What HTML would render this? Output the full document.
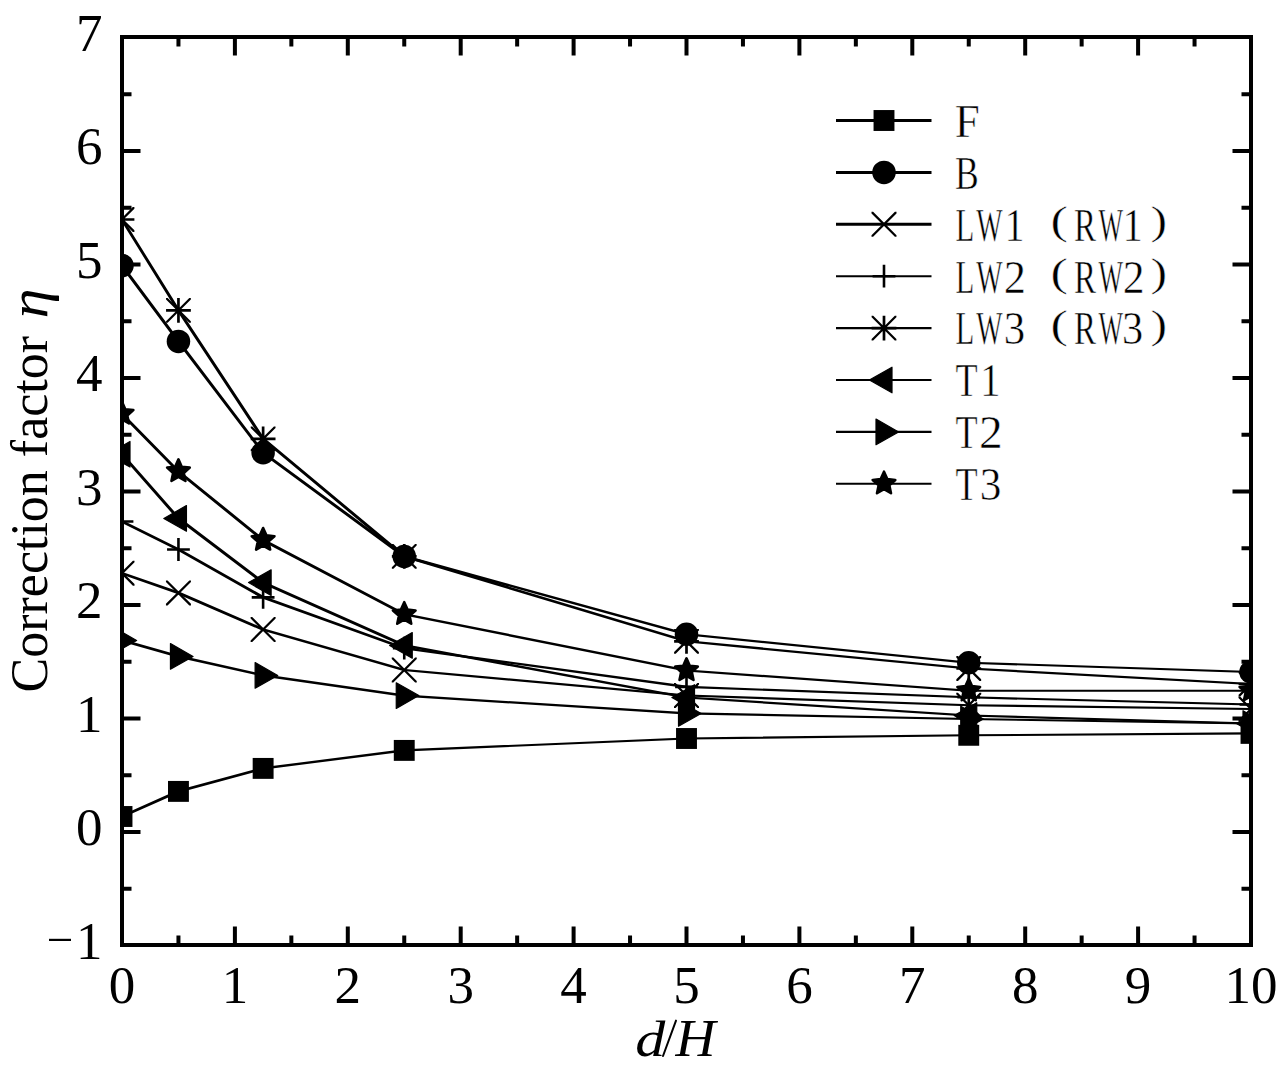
<!DOCTYPE html><html><head><meta charset="utf-8"><style>html,body{margin:0;padding:0;background:#fff;width:1288px;height:1073px;overflow:hidden}svg{display:block}text{font-family:"Liberation Serif",serif;fill:#000}.m{stroke:#000;stroke-width:2.5;fill:none;stroke-linecap:butt}.lg{stroke:#fff;stroke-width:0.5px;vector-effect:non-scaling-stroke;paint-order:fill}.ln{stroke:#000;stroke-width:2.4;fill:none;stroke-linejoin:round}</style></head><body>
<svg width="1288" height="1073" viewBox="0 0 1288 1073">
<rect width="1288" height="1073" fill="#fff"/>
<defs><clipPath id="pc"><rect x="120" y="35" width="1133" height="912"/></clipPath></defs>
<g clip-path="url(#pc)">
<path d="M120.95 815.45L177.4 790.35L179.5 790.35L179.5 792.45L123.05 817.55L120.95 817.55ZM177.4 790.35L262.07 767.35L264.18 767.35L264.18 769.45L179.5 792.45L177.4 792.45ZM262.07 767.35L403.2 749.35L405.3 749.35L405.3 751.45L264.18 769.45L262.07 769.45ZM403.2 749.35L685.45 737.45L687.55 737.45L687.55 739.55L405.3 751.45L403.2 751.45ZM685.45 737.45L967.7 734.25L969.8 734.25L969.8 736.35L687.55 739.55L685.45 739.55ZM967.7 734.25L1249.95 732.35L1252.05 732.35L1252.05 734.45L969.8 736.35L967.7 736.35Z"/>
<path d="M120.95 264.55L123.05 264.55L179.5 340.35L179.5 342.45L177.4 342.45L120.95 266.65ZM177.4 340.35L179.5 340.35L264.18 451.65L264.18 453.75L262.07 453.75L177.4 342.45ZM262.07 451.65L264.18 451.65L405.3 555.35L405.3 557.45L403.2 557.45L262.07 453.75ZM403.2 555.35L405.3 555.35L687.55 633.25L687.55 635.35L685.45 635.35L403.2 557.45ZM685.45 633.25L687.55 633.25L969.8 661.65L969.8 663.75L967.7 663.75L685.45 635.35ZM967.7 661.65L969.8 661.65L1252.05 670.95L1252.05 673.05L1249.95 673.05L967.7 663.75Z"/>
<path d="M120.95 572.15L123.05 572.15L179.5 591.85L179.5 593.95L177.4 593.95L120.95 574.25ZM177.4 591.85L179.5 591.85L264.18 628.45L264.18 630.55L262.07 630.55L177.4 593.95ZM262.07 628.45L264.18 628.45L405.3 668.95L405.3 671.05L403.2 671.05L262.07 630.55ZM403.2 668.95L405.3 668.95L687.55 694.45L687.55 696.55L685.45 696.55L403.2 671.05ZM685.45 694.45L687.55 694.45L969.8 704.15L969.8 706.25L967.7 706.25L685.45 696.55ZM967.7 704.15L969.8 704.15L1252.05 707.95L1252.05 710.05L1249.95 710.05L967.7 706.25Z"/>
<path d="M120.95 520.45L123.05 520.45L179.5 548.45L179.5 550.55L177.4 550.55L120.95 522.55ZM177.4 548.45L179.5 548.45L264.18 596.35L264.18 598.45L262.07 598.45L177.4 550.55ZM262.07 596.35L264.18 596.35L405.3 647.15L405.3 649.25L403.2 649.25L262.07 598.45ZM403.2 647.15L405.3 647.15L687.55 685.85L687.55 687.95L685.45 687.95L403.2 649.25ZM685.45 685.85L687.55 685.85L969.8 696.25L969.8 698.35L967.7 698.35L685.45 687.95ZM967.7 696.25L969.8 696.25L1252.05 703.45L1252.05 705.55L1249.95 705.55L967.7 698.35Z"/>
<path d="M120.95 218.45L123.05 218.45L179.5 309.35L179.5 311.45L177.4 311.45L120.95 220.55ZM177.4 309.35L179.5 309.35L264.18 437.75L264.18 439.85L262.07 439.85L177.4 311.45ZM262.07 437.75L264.18 437.75L405.3 555.35L405.3 557.45L403.2 557.45L262.07 439.85ZM403.2 555.35L405.3 555.35L687.55 640.25L687.55 642.35L685.45 642.35L403.2 557.45ZM685.45 640.25L687.55 640.25L969.8 667.45L969.8 669.55L967.7 669.55L685.45 642.35ZM967.7 667.45L969.8 667.45L1252.05 682.95L1252.05 685.05L1249.95 685.05L967.7 669.55Z"/>
<path d="M120.95 453.25L123.05 453.25L179.5 517.35L179.5 519.45L177.4 519.45L120.95 455.35ZM177.4 517.35L179.5 517.35L264.18 581.55L264.18 583.65L262.07 583.65L177.4 519.45ZM262.07 581.55L264.18 581.55L405.3 644.35L405.3 646.45L403.2 646.45L262.07 583.65ZM403.2 644.35L405.3 644.35L687.55 696.45L687.55 698.55L685.45 698.55L403.2 646.45ZM685.45 696.45L687.55 696.45L969.8 714.45L969.8 716.55L967.7 716.55L685.45 698.55ZM967.7 714.45L969.8 714.45L1252.05 722.45L1252.05 724.55L1249.95 724.55L967.7 716.55Z"/>
<path d="M120.95 639.35L123.05 639.35L179.5 655.35L179.5 657.45L177.4 657.45L120.95 641.45ZM177.4 655.35L179.5 655.35L264.18 674.35L264.18 676.45L262.07 676.45L177.4 657.45ZM262.07 674.35L264.18 674.35L405.3 694.55L405.3 696.65L403.2 696.65L262.07 676.45ZM403.2 694.55L405.3 694.55L687.55 712.35L687.55 714.45L685.45 714.45L403.2 696.65ZM685.45 712.35L687.55 712.35L969.8 717.95L969.8 720.05L967.7 720.05L685.45 714.45ZM967.7 717.95L969.8 717.95L1252.05 722.45L1252.05 724.55L1249.95 724.55L967.7 720.05Z"/>
<path d="M120.95 412.95L123.05 412.95L179.5 470.45L179.5 472.55L177.4 472.55L120.95 415.05ZM177.4 470.45L179.5 470.45L264.18 539.05L264.18 541.15L262.07 541.15L177.4 472.55ZM262.07 539.05L264.18 539.05L405.3 613.25L405.3 615.35L403.2 615.35L262.07 541.15ZM403.2 613.25L405.3 613.25L687.55 669.45L687.55 671.55L685.45 671.55L403.2 615.35ZM685.45 669.45L687.55 669.45L969.8 689.75L969.8 691.85L967.7 691.85L685.45 671.55ZM967.7 689.75L1252.05 689.75L1252.05 691.85L967.7 691.85Z"/>
<g><rect x="111.55" y="806.05" width="20.9" height="20.9"/><rect x="168" y="780.95" width="20.9" height="20.9"/><rect x="252.68" y="757.95" width="20.9" height="20.9"/><rect x="393.8" y="739.95" width="20.9" height="20.9"/><rect x="676.05" y="728.05" width="20.9" height="20.9"/><rect x="958.3" y="724.85" width="20.9" height="20.9"/><rect x="1240.55" y="722.95" width="20.9" height="20.9"/></g>
<g><circle cx="122" cy="265.6" r="11.75"/><circle cx="178.45" cy="341.4" r="11.75"/><circle cx="263.12" cy="452.7" r="11.75"/><circle cx="404.25" cy="556.4" r="11.75"/><circle cx="686.5" cy="634.3" r="11.75"/><circle cx="968.75" cy="662.7" r="11.75"/><circle cx="1251" cy="672" r="11.75"/></g>
<g><path d="M109.5 560.7L111.1 560.7L134.5 584.1L134.5 585.7L132.9 585.7L109.5 562.3ZM109.5 584.1L132.9 560.7L134.5 560.7L134.5 562.3L111.1 585.7L109.5 585.7Z"/><path d="M165.95 580.4L167.55 580.4L190.95 603.8L190.95 605.4L189.35 605.4L165.95 582ZM165.95 603.8L189.35 580.4L190.95 580.4L190.95 582L167.55 605.4L165.95 605.4Z"/><path d="M250.62 617L252.22 617L275.62 640.4L275.62 642L274.02 642L250.62 618.6ZM250.62 640.4L274.02 617L275.62 617L275.62 618.6L252.22 642L250.62 642Z"/><path d="M391.75 657.5L393.35 657.5L416.75 680.9L416.75 682.5L415.15 682.5L391.75 659.1ZM391.75 680.9L415.15 657.5L416.75 657.5L416.75 659.1L393.35 682.5L391.75 682.5Z"/><path d="M674 683L675.6 683L699 706.4L699 708L697.4 708L674 684.6ZM674 706.4L697.4 683L699 683L699 684.6L675.6 708L674 708Z"/><path d="M956.25 692.7L957.85 692.7L981.25 716.1L981.25 717.7L979.65 717.7L956.25 694.3ZM956.25 716.1L979.65 692.7L981.25 692.7L981.25 694.3L957.85 717.7L956.25 717.7Z"/><path d="M1238.5 696.5L1240.1 696.5L1263.5 719.9L1263.5 721.5L1261.9 721.5L1238.5 698.1ZM1238.5 719.9L1261.9 696.5L1263.5 696.5L1263.5 698.1L1240.1 721.5L1238.5 721.5Z"/></g>
<g><path d="M110.6 520.2h22.8v2.6h-22.8ZM120.7 510.1h2.6v22.8h-2.6Z"/><path d="M167.05 548.2h22.8v2.6h-22.8ZM177.15 538.1h2.6v22.8h-2.6Z"/><path d="M251.72 596.1h22.8v2.6h-22.8ZM261.82 586h2.6v22.8h-2.6Z"/><path d="M392.85 646.9h22.8v2.6h-22.8ZM402.95 636.8h2.6v22.8h-2.6Z"/><path d="M675.1 685.6h22.8v2.6h-22.8ZM685.2 675.5h2.6v22.8h-2.6Z"/><path d="M957.35 696h22.8v2.6h-22.8ZM967.45 685.9h2.6v22.8h-2.6Z"/><path d="M1239.6 703.2h22.8v2.6h-22.8ZM1249.7 693.1h2.6v22.8h-2.6Z"/></g>
<g><path d="M109.6 207.1L111.2 207.1L134.4 230.3L134.4 231.9L132.8 231.9L109.6 208.7ZM109.6 230.3L132.8 207.1L134.4 207.1L134.4 208.7L111.2 231.9L109.6 231.9ZM109.6 218.15h24.8v2.7h-24.8ZM120.65 207.1h2.7v24.8h-2.7Z"/><path d="M166.05 298L167.65 298L190.85 321.2L190.85 322.8L189.25 322.8L166.05 299.6ZM166.05 321.2L189.25 298L190.85 298L190.85 299.6L167.65 322.8L166.05 322.8ZM166.05 309.05h24.8v2.7h-24.8ZM177.1 298h2.7v24.8h-2.7Z"/><path d="M250.72 426.4L252.32 426.4L275.52 449.6L275.52 451.2L273.93 451.2L250.72 428ZM250.72 449.6L273.93 426.4L275.52 426.4L275.52 428L252.32 451.2L250.72 451.2ZM250.72 437.45h24.8v2.7h-24.8ZM261.77 426.4h2.7v24.8h-2.7Z"/><path d="M391.85 544L393.45 544L416.65 567.2L416.65 568.8L415.05 568.8L391.85 545.6ZM391.85 567.2L415.05 544L416.65 544L416.65 545.6L393.45 568.8L391.85 568.8ZM391.85 555.05h24.8v2.7h-24.8ZM402.9 544h2.7v24.8h-2.7Z"/><path d="M674.1 628.9L675.7 628.9L698.9 652.1L698.9 653.7L697.3 653.7L674.1 630.5ZM674.1 652.1L697.3 628.9L698.9 628.9L698.9 630.5L675.7 653.7L674.1 653.7ZM674.1 639.95h24.8v2.7h-24.8ZM685.15 628.9h2.7v24.8h-2.7Z"/><path d="M956.35 656.1L957.95 656.1L981.15 679.3L981.15 680.9L979.55 680.9L956.35 657.7ZM956.35 679.3L979.55 656.1L981.15 656.1L981.15 657.7L957.95 680.9L956.35 680.9ZM956.35 667.15h24.8v2.7h-24.8ZM967.4 656.1h2.7v24.8h-2.7Z"/><path d="M1238.6 671.6L1240.2 671.6L1263.4 694.8L1263.4 696.4L1261.8 696.4L1238.6 673.2ZM1238.6 694.8L1261.8 671.6L1263.4 671.6L1263.4 673.2L1240.2 696.4L1238.6 696.4ZM1238.6 682.65h24.8v2.7h-24.8ZM1249.65 671.6h2.7v24.8h-2.7Z"/></g>
<g><polygon stroke="#000" stroke-width="1.2" stroke-linejoin="round" points="107.4,454.3 130,441.5 130,467.1"/><polygon stroke="#000" stroke-width="1.2" stroke-linejoin="round" points="163.85,518.4 186.45,505.6 186.45,531.2"/><polygon stroke="#000" stroke-width="1.2" stroke-linejoin="round" points="248.53,582.6 271.12,569.8 271.12,595.4"/><polygon stroke="#000" stroke-width="1.2" stroke-linejoin="round" points="389.65,645.4 412.25,632.6 412.25,658.2"/><polygon stroke="#000" stroke-width="1.2" stroke-linejoin="round" points="671.9,697.5 694.5,684.7 694.5,710.3"/><polygon stroke="#000" stroke-width="1.2" stroke-linejoin="round" points="954.15,715.5 976.75,702.7 976.75,728.3"/><polygon stroke="#000" stroke-width="1.2" stroke-linejoin="round" points="1236.4,723.5 1259,710.7 1259,736.3"/></g>
<g><polygon stroke="#000" stroke-width="1.2" stroke-linejoin="round" points="136.6,640.4 114,627.6 114,653.2"/><polygon stroke="#000" stroke-width="1.2" stroke-linejoin="round" points="193.05,656.4 170.45,643.6 170.45,669.2"/><polygon stroke="#000" stroke-width="1.2" stroke-linejoin="round" points="277.73,675.4 255.12,662.6 255.12,688.2"/><polygon stroke="#000" stroke-width="1.2" stroke-linejoin="round" points="418.85,695.6 396.25,682.8 396.25,708.4"/><polygon stroke="#000" stroke-width="1.2" stroke-linejoin="round" points="701.1,713.4 678.5,700.6 678.5,726.2"/><polygon stroke="#000" stroke-width="1.2" stroke-linejoin="round" points="983.35,719 960.75,706.2 960.75,731.8"/><polygon stroke="#000" stroke-width="1.2" stroke-linejoin="round" points="1265.6,723.5 1243,710.7 1243,736.3"/></g>
<g><polygon stroke="#000" stroke-width="2.6" stroke-linejoin="round" points="122,401.9 125.29,409.27 133.32,410.12 127.33,415.53 128.99,423.43 122,419.4 115.01,423.43 116.67,415.53 110.68,410.12 118.71,409.27"/><polygon stroke="#000" stroke-width="2.6" stroke-linejoin="round" points="178.45,459.4 181.74,466.77 189.77,467.62 183.78,473.03 185.44,480.93 178.45,476.9 171.46,480.93 173.12,473.03 167.13,467.62 175.16,466.77"/><polygon stroke="#000" stroke-width="2.6" stroke-linejoin="round" points="263.12,528 266.42,535.37 274.44,536.22 268.45,541.63 270.12,549.53 263.12,545.5 256.13,549.53 257.8,541.63 251.81,536.22 259.83,535.37"/><polygon stroke="#000" stroke-width="2.6" stroke-linejoin="round" points="404.25,602.2 407.54,609.57 415.57,610.42 409.58,615.83 411.24,623.73 404.25,619.7 397.26,623.73 398.92,615.83 392.93,610.42 400.96,609.57"/><polygon stroke="#000" stroke-width="2.6" stroke-linejoin="round" points="686.5,658.4 689.79,665.77 697.82,666.62 691.83,672.03 693.49,679.93 686.5,675.9 679.51,679.93 681.17,672.03 675.18,666.62 683.21,665.77"/><polygon stroke="#000" stroke-width="2.6" stroke-linejoin="round" points="968.75,678.7 972.04,686.07 980.07,686.92 974.08,692.33 975.74,700.23 968.75,696.2 961.76,700.23 963.42,692.33 957.43,686.92 965.46,686.07"/><polygon stroke="#000" stroke-width="2.6" stroke-linejoin="round" points="1251,678.7 1254.29,686.07 1262.32,686.92 1256.33,692.33 1257.99,700.23 1251,696.2 1244.01,700.23 1245.67,692.33 1239.68,686.92 1247.71,686.07"/></g>
</g>
<rect x="122" y="37" width="1129" height="908" fill="none" stroke="#000" stroke-width="4"/>
<path d="M178.45 943V935.5M178.45 39V46.5M234.9 943V926.5M234.9 39V55.5M291.35 943V935.5M291.35 39V46.5M347.8 943V926.5M347.8 39V55.5M404.25 943V935.5M404.25 39V46.5M460.7 943V926.5M460.7 39V55.5M517.15 943V935.5M517.15 39V46.5M573.6 943V926.5M573.6 39V55.5M630.05 943V935.5M630.05 39V46.5M686.5 943V926.5M686.5 39V55.5M742.95 943V935.5M742.95 39V46.5M799.4 943V926.5M799.4 39V55.5M855.85 943V935.5M855.85 39V46.5M912.3 943V926.5M912.3 39V55.5M968.75 943V935.5M968.75 39V46.5M1025.2 943V926.5M1025.2 39V55.5M1081.65 943V935.5M1081.65 39V46.5M1138.1 943V926.5M1138.1 39V55.5M1194.55 943V935.5M1194.55 39V46.5M124 888.75H131.5M1249 888.75H1241.5M124 832H140.5M1249 832H1232.5M124 775.25H131.5M1249 775.25H1241.5M124 718.5H140.5M1249 718.5H1232.5M124 661.75H131.5M1249 661.75H1241.5M124 605H140.5M1249 605H1232.5M124 548.25H131.5M1249 548.25H1241.5M124 491.5H140.5M1249 491.5H1232.5M124 434.75H131.5M1249 434.75H1241.5M124 378H140.5M1249 378H1232.5M124 321.25H131.5M1249 321.25H1241.5M124 264.5H140.5M1249 264.5H1232.5M124 207.75H131.5M1249 207.75H1241.5M124 151H140.5M1249 151H1232.5M124 94.25H131.5M1249 94.25H1241.5" stroke="#000" stroke-width="4" fill="none"/>
<text x="122" y="1002.5" font-size="53" text-anchor="middle">0</text>
<text x="234.9" y="1002.5" font-size="53" text-anchor="middle">1</text>
<text x="347.8" y="1002.5" font-size="53" text-anchor="middle">2</text>
<text x="460.7" y="1002.5" font-size="53" text-anchor="middle">3</text>
<text x="573.6" y="1002.5" font-size="53" text-anchor="middle">4</text>
<text x="686.5" y="1002.5" font-size="53" text-anchor="middle">5</text>
<text x="799.4" y="1002.5" font-size="53" text-anchor="middle">6</text>
<text x="912.3" y="1002.5" font-size="53" text-anchor="middle">7</text>
<text x="1025.2" y="1002.5" font-size="53" text-anchor="middle">8</text>
<text x="1138.1" y="1002.5" font-size="53" text-anchor="middle">9</text>
<text x="1251" y="1002.5" font-size="53" text-anchor="middle">10</text>
<text x="102.5" y="958.5" font-size="53" text-anchor="end">1</text>
<text x="102.5" y="845" font-size="53" text-anchor="end">0</text>
<text x="102.5" y="731.5" font-size="53" text-anchor="end">1</text>
<text x="102.5" y="618" font-size="53" text-anchor="end">2</text>
<text x="102.5" y="504.5" font-size="53" text-anchor="end">3</text>
<text x="102.5" y="391" font-size="53" text-anchor="end">4</text>
<text x="102.5" y="277.5" font-size="53" text-anchor="end">5</text>
<text x="102.5" y="164" font-size="53" text-anchor="end">6</text>
<text x="102.5" y="50.5" font-size="53" text-anchor="end">7</text>
<rect x="49" y="938.8" width="22" height="2.2"/>
<text transform="translate(635.18 1055.8) scale(1.1700 1)" font-size="51.3" font-style="italic">d</text>
<text transform="translate(675.59 1055.9) scale(1.0400 1)" font-size="53.3" font-style="italic">H</text>
<line x1="676" y1="1020.6" x2="663" y2="1056" stroke="#000" stroke-width="2" stroke-linecap="round"/>
<text transform="translate(46.5 692.5) rotate(-90)" font-size="52">Correction factor</text>
<text transform="translate(46.8 318.5) rotate(-90) scale(1.12 1)" font-size="54" font-style="italic">η</text>
<line x1="836" y1="120.5" x2="931.5" y2="120.5" stroke="#000" stroke-width="3"/>
<rect x="873.55" y="110.05" width="20.9" height="20.9"/>
<text class="lg" transform="translate(954.7 136.8) scale(0.9512 1)" font-size="47.3">F</text>
<line x1="836" y1="172.4" x2="931.5" y2="172.4" stroke="#000" stroke-width="3"/>
<circle cx="884" cy="172.4" r="11.75"/>
<text class="lg" transform="translate(954.97 188.7) scale(0.7533 1)" font-size="47.3">B</text>
<line x1="836" y1="224.3" x2="931.5" y2="224.3" stroke="#000" stroke-width="3"/>
<path d="M871.5 211.8L873.1 211.8L896.5 235.2L896.5 236.8L894.9 236.8L871.5 213.4ZM871.5 235.2L894.9 211.8L896.5 211.8L896.5 213.4L873.1 236.8L871.5 236.8Z"/>
<text class="lg" transform="translate(955.41 240.6) scale(0.6521 1)" font-size="47.3">L</text>
<text class="lg" transform="translate(976.17 240.6) scale(0.5887 1)" font-size="47.3">W</text>
<text class="lg" transform="translate(1004.75 240.6) scale(0.8288 1)" font-size="47.3">1</text>
<text class="lg" transform="translate(1050.61 234.05) scale(1.3040 1)" font-size="40">(</text>
<text class="lg" transform="translate(1074.05 240.6) scale(0.6973 1)" font-size="47.3">R</text>
<text class="lg" transform="translate(1098.47 240.6) scale(0.5505 1)" font-size="47.3">W</text>
<text class="lg" transform="translate(1122.8 240.6) scale(0.8409 1)" font-size="47.3">1</text>
<text class="lg" transform="translate(1150.6 234.05) scale(1.2456 1)" font-size="40">)</text>
<line x1="836" y1="276.2" x2="931.5" y2="276.2" stroke="#000" stroke-width="2.1"/>
<path d="M872.6 274.9h22.8v2.6h-22.8ZM882.7 264.8h2.6v22.8h-2.6Z"/>
<text class="lg" transform="translate(955.41 292.5) scale(0.6521 1)" font-size="47.3">L</text>
<text class="lg" transform="translate(976.17 292.5) scale(0.5887 1)" font-size="47.3">W</text>
<text class="lg" transform="translate(1003.65 292.5) scale(0.9387 1)" font-size="47.3">2</text>
<text class="lg" transform="translate(1050.61 285.95) scale(1.3040 1)" font-size="40">(</text>
<text class="lg" transform="translate(1074.05 292.5) scale(0.6973 1)" font-size="47.3">R</text>
<text class="lg" transform="translate(1098.47 292.5) scale(0.5505 1)" font-size="47.3">W</text>
<text class="lg" transform="translate(1122.78 292.5) scale(0.9229 1)" font-size="47.3">2</text>
<text class="lg" transform="translate(1150.6 285.95) scale(1.2456 1)" font-size="40">)</text>
<line x1="836" y1="328.1" x2="931.5" y2="328.1" stroke="#000" stroke-width="2.1"/>
<path d="M871.6 315.7L873.2 315.7L896.4 338.9L896.4 340.5L894.8 340.5L871.6 317.3ZM871.6 338.9L894.8 315.7L896.4 315.7L896.4 317.3L873.2 340.5L871.6 340.5ZM871.6 326.75h24.8v2.7h-24.8ZM882.65 315.7h2.7v24.8h-2.7Z"/>
<text class="lg" transform="translate(955.41 344.4) scale(0.6521 1)" font-size="47.3">L</text>
<text class="lg" transform="translate(976.17 344.4) scale(0.5887 1)" font-size="47.3">W</text>
<text class="lg" transform="translate(1003.75 344.4) scale(0.9061 1)" font-size="47.3">3</text>
<text class="lg" transform="translate(1050.61 337.85) scale(1.3040 1)" font-size="40">(</text>
<text class="lg" transform="translate(1074.05 344.4) scale(0.6973 1)" font-size="47.3">R</text>
<text class="lg" transform="translate(1098.47 344.4) scale(0.5505 1)" font-size="47.3">W</text>
<text class="lg" transform="translate(1121.97 344.4) scale(0.8958 1)" font-size="47.3">3</text>
<text class="lg" transform="translate(1150.6 337.85) scale(1.2456 1)" font-size="40">)</text>
<line x1="836" y1="380" x2="931.5" y2="380" stroke="#000" stroke-width="2.1"/>
<polygon stroke="#000" stroke-width="1.2" stroke-linejoin="round" points="869.4,380 892,367.2 892,392.8"/>
<text class="lg" transform="translate(955.44 396.3) scale(0.7670 1)" font-size="47.3">T</text>
<text class="lg" transform="translate(980.25 396.3) scale(0.8529 1)" font-size="47.3">1</text>
<line x1="836" y1="431.9" x2="931.5" y2="431.9" stroke="#000" stroke-width="2.1"/>
<polygon stroke="#000" stroke-width="1.2" stroke-linejoin="round" points="898.6,431.9 876,419.1 876,444.7"/>
<text class="lg" transform="translate(955.44 448.2) scale(0.7670 1)" font-size="47.3">T</text>
<text class="lg" transform="translate(978.92 448.2) scale(1.0020 1)" font-size="47.3">2</text>
<line x1="836" y1="483.8" x2="931.5" y2="483.8" stroke="#000" stroke-width="2.1"/>
<polygon stroke="#000" stroke-width="2.6" stroke-linejoin="round" points="884,471.7 887.29,479.07 895.32,479.92 889.33,485.33 890.99,493.23 884,489.2 877.01,493.23 878.67,485.33 872.68,479.92 880.71,479.07"/>
<text class="lg" transform="translate(955.44 500.1) scale(0.7670 1)" font-size="47.3">T</text>
<text class="lg" transform="translate(979.72 500.1) scale(0.9163 1)" font-size="47.3">3</text>
</svg></body></html>
